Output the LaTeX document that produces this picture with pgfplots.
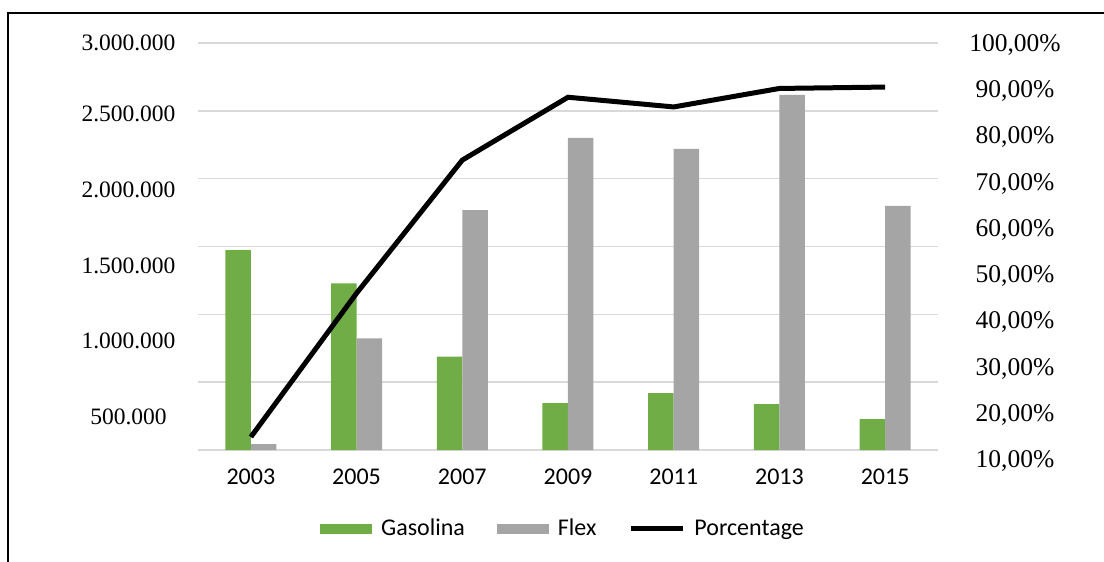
\documentclass[border=0pt]{standalone}
\usepackage{pgfplots}
\pgfplotsset{compat=1.18}
\usepackage{fontspec}
\setmainfont{Liberation Serif}
\newfontfamily\calfont{Carlito}
\definecolor{gas}{RGB}{112,173,71}
\definecolor{flex}{RGB}{165,165,165}
\definecolor{gridc}{RGB}{217,217,217}
\begin{document}
\begin{tikzpicture}
\begin{axis}[
 at={(99pt,-225pt)}, anchor=south west,
 scale only axis, width=370pt, height=203.5pt,
 xmin=-0.5, xmax=6.5, ymin=0, ymax=3000000,
 axis line style={draw=none},
 major tick length=0pt,
 xtick={0,...,6}, xticklabels={2003,2005,2007,2009,2011,2013,2015},
 xticklabel style={font=\calfont\fontsize{12}{14}\selectfont, yshift=-6pt},
 ytick={0,500000,1000000,1500000,2000000,2500000,3000000}, yticklabels={},
 ymajorgrids, grid style={gridc, line width=0.75pt},
 extra y ticks={241000,803000,1359000,1916000,2477000,3000000},
 extra y tick labels={500.000,1.000.000,1.500.000,2.000.000,2.500.000,3.000.000},
 extra y tick style={grid=none},
 yticklabel style={anchor=center, xshift=-34.75pt, font=\fontsize{11.75}{14}\selectfont},
 scaled y ticks=false,
 legend style={at={(0.4946,-0.194)}, anchor=center, draw=none, legend columns=3,
   font=\calfont\fontsize{12}{14}\selectfont,
   /tikz/every odd column/.append style={column sep=2.5pt},
   /tikz/every even column/.append style={column sep=14pt}},
 legend cell align=left,
]
\addplot[ybar, bar width=12.75pt, bar shift=-6.375pt, fill=gas, draw=none,
  legend image code/.code={\fill[gas] (0pt,-2.5pt) rectangle (26pt,2.5pt);}]
  coordinates {(0,1474000)(1,1229000)(2,688000)(3,346000)(4,420000)(5,339000)(6,228000)};
\addlegendentry{Gasolina}
\addplot[ybar, bar width=12.75pt, bar shift=6.375pt, fill=flex, draw=none,
  legend image code/.code={\fill[flex] (0pt,-2.5pt) rectangle (26pt,2.5pt);}]
  coordinates {(0,44000)(1,823000)(2,1769000)(3,2300000)(4,2219000)(5,2617000)(6,1799000)};
\addlegendentry{Flex}
\addlegendimage{black, line width=2.5pt, legend image code/.code={\draw[black, line width=2.5pt] (0pt,0pt) -- (26pt,0pt);}}
\addlegendentry{Porcentage}
\end{axis}
\begin{axis}[
 at={(99pt,-230.5pt)}, anchor=south west,
 scale only axis, width=370pt, height=208pt,
 xmin=-0.5, xmax=6.5, ymin=10, ymax=100,
 axis y line*=right, axis x line=none,
 y axis line style={draw=none},
 major tick length=0pt,
 ytick={10,20,30,40,50,60,70,80,90,100},
 yticklabels={{10,00\%},{20,00\%},{30,00\%},{40,00\%},{50,00\%},{60,00\%},{70,00\%},{80,00\%},{90,00\%},{100,00\%}},
 yticklabel style={anchor=center, xshift=38.5pt, font=\fontsize{12.75}{14}\selectfont},
]
\addplot[black, line width=2.5pt] coordinates {(0,15.2)(1,46.3)(2,75.1)(3,88.7)(4,86.6)(5,90.6)(6,90.9)};
\end{axis}
\draw[line width=1pt] (4pt,-290pt) -- (4pt,-6.5pt) -- (560pt,-6.5pt);
\pgfresetboundingbox
\useasboundingbox (0,0) rectangle (552pt,-281pt);
\end{tikzpicture}
\end{document}
